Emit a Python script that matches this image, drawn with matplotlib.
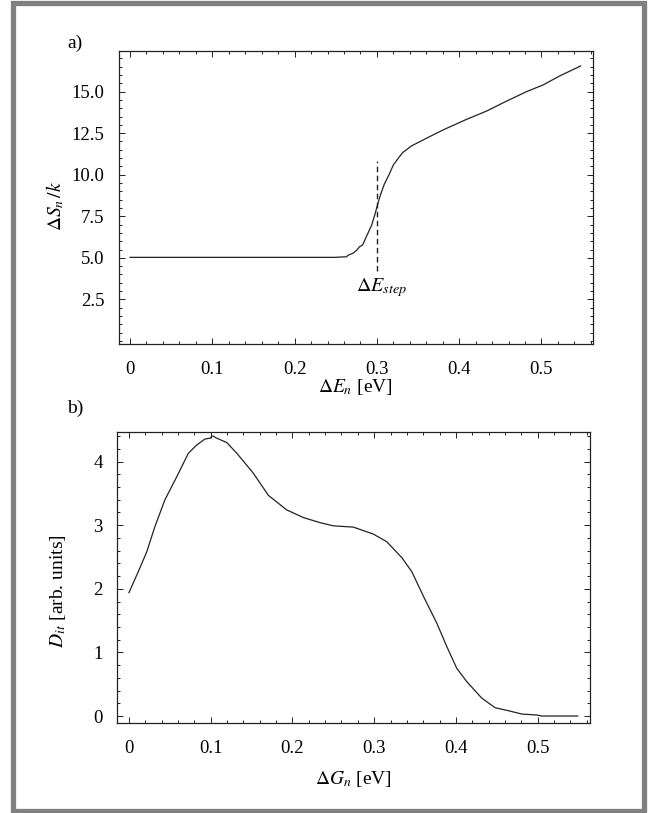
# two-panel plot: entropy step and D_it distribution

import matplotlib
matplotlib.use("Agg")
import matplotlib.pyplot as plt
from matplotlib.patches import Rectangle
from matplotlib.ticker import MultipleLocator, FuncFormatter

plt.rcParams["font.family"] = ["Liberation Serif", "DejaVu Serif"]
plt.rcParams["mathtext.fontset"] = "stix"

# panel a: dS_n/k versus dE_n
dE = [0.0, 0.10, 0.20, 0.25, 0.255, 0.263, 0.265, 0.271, 0.2755, 0.2787, 0.2827,
      0.2876, 0.2937, 0.2977, 0.301, 0.3046, 0.309, 0.315, 0.32, 0.326, 0.3313,
      0.342, 0.3605, 0.3807, 0.409, 0.4334, 0.4536, 0.482, 0.502, 0.5225, 0.5476]
dS = [5.03, 5.03, 5.03, 5.03, 5.05, 5.06, 5.16, 5.28, 5.46, 5.66, 5.78,
      6.32, 6.98, 7.63, 8.23, 8.83, 9.43, 10.03, 10.59, 10.99, 11.33,
      11.73, 12.2, 12.7, 13.33, 13.83, 14.33, 15.0, 15.4, 15.95, 16.54]
E_step = 0.3
step_lo, step_hi = 4.22, 10.83

# panel b: D_it versus dG_n
dG = [0.0, 0.0114, 0.0217, 0.0318, 0.044, 0.0584, 0.0726, 0.0828, 0.093, 0.1,
      0.101, 0.103, 0.107, 0.1196, 0.132, 0.152, 0.1705, 0.193, 0.2134, 0.2338,
      0.25, 0.2745, 0.299, 0.3154, 0.3338, 0.346, 0.3603, 0.3766, 0.3889, 0.401,
      0.4133, 0.4317, 0.448, 0.4643, 0.4806, 0.499, 0.505, 0.549]
Dit = [1.94, 2.27, 2.58, 2.98, 3.40, 3.76, 4.13, 4.26, 4.355, 4.37,
       4.40, 4.40, 4.37, 4.30, 4.13, 3.82, 3.47, 3.24, 3.12, 3.04,
       2.99, 2.97, 2.86, 2.74, 2.49, 2.27, 1.88, 1.46, 1.09, 0.75,
       0.54, 0.28, 0.13, 0.083, 0.031, 0.016, 0.0, 0.0]

W, H = 652, 813
fig = plt.figure(figsize=(W / 100, H / 100), dpi=100)

# grauer Rahmen
fig.patches.append(Rectangle((13.5 / W, 2.5 / H), (644 - 13.5) / W, (810 - 2.5) / H,
                             transform=fig.transFigure, fill=False,
                             edgecolor="#808080", linewidth=3.8))


def x_fmt(v, _):
    return "0" if abs(v) < 1e-9 else f"{v:.1f}"


def style(ax, xminor, yminor):
    ax.xaxis.set_major_locator(MultipleLocator(0.1))
    ax.xaxis.set_minor_locator(MultipleLocator(xminor))
    ax.yaxis.set_minor_locator(MultipleLocator(yminor))
    ax.xaxis.set_major_formatter(FuncFormatter(x_fmt))
    ax.tick_params(which="both", direction="in", top=True, right=True,
                   labelsize=13.5, width=0.7, color="#222222")
    ax.tick_params(which="major", length=4.5)
    ax.tick_params(which="minor", length=2.5)
    ax.tick_params(axis="x", pad=12.5)
    ax.tick_params(axis="y", pad=10)
    for s in ax.spines.values():
        s.set_linewidth(0.9)
        s.set_color("#222222")


# --- a) ---
ax1 = fig.add_axes([118.5 / W, 1 - 344 / H, 474 / W, 293 / H])
ax1.plot(dE, dS, color="#222222", linewidth=0.9)
ax1.plot([E_step, E_step], [step_lo, step_hi], color="#222222",
         linewidth=1.0, linestyle=(0, (4, 2.5)))
ax1.text(E_step + 0.006, 3.2, r"$\Delta E_{step}$", fontsize=14.5,
         ha="center", va="center")
ax1.set_xlim(-0.014, 0.562)
ax1.set_ylim(-0.18, 17.44)
ax1.set_yticks([2.5, 5.0, 7.5, 10.0, 12.5, 15.0])
ax1.yaxis.set_major_formatter(FuncFormatter(lambda v, _: f"{v:.1f}"))
style(ax1, 0.02, 0.5)
ax1.set_xlabel(r"$\Delta E_n$ [eV]", fontsize=14)
ax1.xaxis.set_label_coords(0.5, -0.113)
ax1.set_ylabel(r"$\Delta S_n\,/k$", fontsize=14)
ax1.yaxis.set_label_coords(-0.110, 0.471)

# --- b) ---
ax2 = fig.add_axes([116.7 / W, 1 - 722.7 / H, 473.3 / W, 291 / H])
ax2.plot(dG, Dit, color="#222222", linewidth=0.9)
ax2.set_xlim(-0.015, 0.564)
ax2.set_ylim(-0.105, 4.47)
ax2.set_yticks([0, 1, 2, 3, 4])
style(ax2, 0.02, 0.2)
ax2.set_xlabel(r"$\Delta G_n$ [eV]", fontsize=14)
ax2.xaxis.set_label_coords(0.5, -0.16)
ax2.set_ylabel(r"$D_{it}$ [arb. units]", fontsize=14)
ax2.yaxis.set_label_coords(-0.102, 0.4526)

fig.text(67 / W, 1 - 43 / H, "a)", fontsize=14, va="center", ha="left")
fig.text(67 / W, 1 - 408 / H, "b)", fontsize=14, va="center", ha="left")

fig.savefig("out.png", dpi=100)
